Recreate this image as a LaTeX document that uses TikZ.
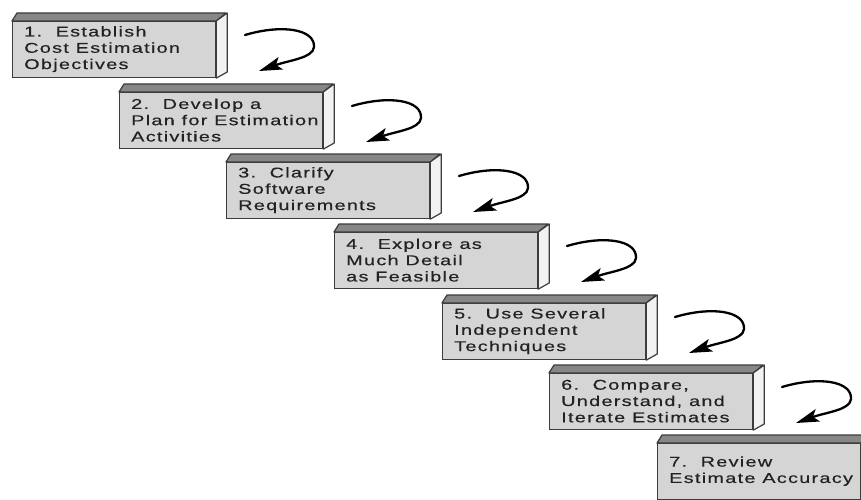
\documentclass[tikz,border=0pt]{standalone}
\usepackage{fontspec}
\newfontfamily\boxfont{Liberation Sans}[FakeStretch=1.4,LetterSpace=9,FakeBold=0.5]
\usetikzlibrary{arrows.meta}
\definecolor{edgec}{HTML}{3C3C3C}
\definecolor{frontc}{HTML}{D5D5D5}
\definecolor{topc}{HTML}{878787}
\definecolor{sidec}{HTML}{F2F2F2}
\definecolor{txtc}{HTML}{222222}
\tikzset{
  front/.style={draw=edgec, fill=frontc, line width=1.2pt, minimum width=203pt,
    minimum height=56pt, inner sep=0pt, anchor=north west},
  topface/.style={draw=edgec, fill=topc, line width=1.2pt, line join=round},
  sideface/.style={draw=edgec, fill=sidec, line width=1.2pt, line join=round},
  lbl/.style={anchor=west, align=left, font=\boxfont\fontsize{14.2}{16.3}\selectfont,
    text=txtc, inner sep=0pt},
  turn/.style={draw=black, line width=2.3pt, line cap=round,
    -{Stealth[length=23pt,width=13pt,inset=5pt]}},
}
\newcommand\stepbox[4]{%
  \node[front] (b#1) at (#2,#3) {};
  \filldraw[topface] (b#1.north west) -- ++(5,-8) -- ++(209,0) -- (b#1.north east) -- cycle;
  \filldraw[sideface] (b#1.north east) -- ++(11,-8) -- ++(0,59) -- (b#1.south east) -- cycle;
  \node[lbl] (t#1) at ([xshift=12pt,yshift=0.5pt]b#1.west) {#4};
}
\newcommand\turnarrow[1]{%
  \begin{scope}[shift={(b#1.north west)}]
    \coordinate (s#1) at (233,14);
    \coordinate (m#1) at (302,26);
    \coordinate (e#1) at (247,50);
    \draw[turn] (s#1) .. controls (270,3) and (303,8) .. (m#1)
      .. controls (301,37) and (278,39) .. (e#1);
  \end{scope}
}
\begin{document}
\begin{tikzpicture}[x=1pt,y=-1pt]
  \useasboundingbox (0,0) rectangle (861,500);
  \clip (0,0) rectangle (861,500);
  \stepbox{1}{12}{21}{1.\ \ Establish\\Cost Estimation\\Objectives}
  \stepbox{2}{119}{92}{2.\ \ Develop a\\Plan for Estimation\\Activities}
  \stepbox{3}{226}{162}{3.\ \ Clarify\\Software\\Requirements}
  \stepbox{4}{334}{232}{4.\ \ Explore as\\Much Detail\\as Feasible}
  \stepbox{5}{442}{303}{5.\ \ Use Several\\Independent\\Techniques}
  \stepbox{6}{549}{373}{6.\ \ Compare,\\Understand, and\\Iterate Estimates}
  \stepbox{7}{657}{443}{7.\ \ Review\\Estimate Accuracy}
  \turnarrow{1}
  \turnarrow{2}
  \turnarrow{3}
  \turnarrow{4}
  \turnarrow{5}
  \turnarrow{6}
\end{tikzpicture}
\end{document}
